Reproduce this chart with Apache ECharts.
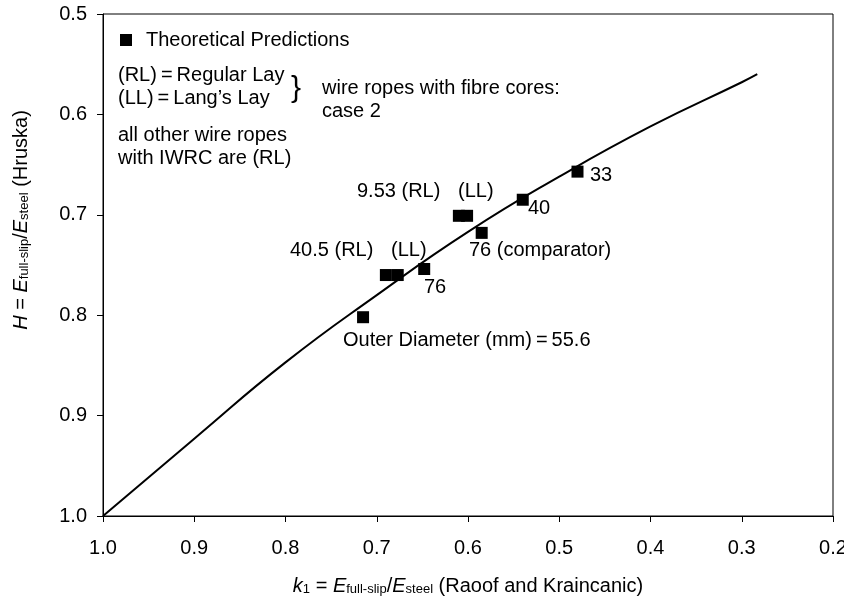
<!DOCTYPE html>
<html>
<head>
<meta charset="utf-8">
<script src="https://cdn.jsdelivr.net/npm/echarts@6/dist/echarts.min.js"></script>
<style>
  html, body { margin: 0; padding: 0; background: #fff; }
  #chart { width: 844px; height: 609px; }
</style>
</head>
<body>
<div id="chart"></div>
<script>
// curve: k1 (Raoof) vs H (Hruska)
var curveK = [1.0, 0.9, 0.8, 0.7, 0.6, 0.5, 0.4, 0.3, 0.283];
var curveH = [1.0, 0.923, 0.847, 0.780, 0.717, 0.662, 0.612, 0.568, 0.560];

// theoretical predictions (squares)
var pointK = [0.715, 0.690, 0.677, 0.648, 0.610, 0.601, 0.585, 0.540, 0.480];
var pointH = [0.802, 0.760, 0.760, 0.754, 0.701, 0.701, 0.718, 0.685, 0.657];

var xTicks = [1.0, 0.9, 0.8, 0.7, 0.6, 0.5, 0.4, 0.3, 0.2];
var yTicks = [0.5, 0.6, 0.7, 0.8, 0.9, 1.0];

var FONT = "'Liberation Sans', Arial, sans-serif";
var FS = 20;

function pairs(a, b) {
  return a.map(function (v, i) { return [v, b[i]]; });
}

// text labels placed in pixels (left, vertical middle)
function txt(x, y, s) {
  return {
    type: "text",
    x: x,
    y: y,
    style: {
      text: s,
      font: FS + "px " + FONT,
      fill: "#000",
      verticalAlign: "middle",
    },
  };
}

var nameRich = {
  i: { fontFamily: FONT, fontSize: FS, fontStyle: "italic", color: "#000" },
  s: { fontFamily: FONT, fontSize: 13, color: "#000", verticalAlign: "bottom", padding: [7, 0, 0, 0] },
};

var chart = echarts.init(document.getElementById("chart"));
var option = {
  animation: false,
  backgroundColor: "#fff",
  grid: {
    left: 103,
    right: 11,
    top: 14,
    bottom: 93,
    outerBoundsMode: "none",
    show: true,
    borderColor: "#000",
    borderWidth: 1,
  },
  legend: {
    left: 115,
    top: 25,
    itemWidth: 12,
    itemHeight: 12,
    icon: "rect",
    textStyle: { fontFamily: FONT, fontSize: FS, color: "#000", padding: [0, 0, 0, 9] },
    data: ["Theoretical Predictions"],
  },
  xAxis: {
    type: "value",
    inverse: true,
    min: 0.2,
    max: 1.0,
    interval: 0.1,
    splitLine: { show: false },
    axisLine: { lineStyle: { color: "#000", width: 1 } },
    axisTick: { show: true, length: 6, lineStyle: { color: "#000" } },
    axisLabel: {
      margin: 22,
      fontFamily: FONT,
      fontSize: FS,
      color: "#000",
      formatter: function (v) { return (+v).toFixed(1); },
    },
    name: "{i|k}{s|1} = {i|E}{s|full-slip}/{i|E}{s|steel} (Raoof and Kraincanic)",
    nameLocation: "middle",
    nameGap: 60,
    nameTextStyle: { fontFamily: FONT, fontSize: FS, color: "#000", rich: nameRich },
  },
  yAxis: {
    type: "value",
    inverse: true,
    min: 0.5,
    max: 1.0,
    interval: 0.1,
    splitLine: { show: false },
    axisLine: { lineStyle: { color: "#000", width: 1 } },
    axisTick: { show: true, length: 6, lineStyle: { color: "#000" } },
    axisLabel: {
      margin: 16,
      fontFamily: FONT,
      fontSize: FS,
      color: "#000",
      formatter: function (v) { return (+v).toFixed(1); },
    },
    name: "{i|H} = {i|E}{s|full-slip}/{i|E}{s|steel} (Hruska)",
    nameLocation: "middle",
    nameGap: 72,
    nameRotate: 90,
    nameTextStyle: {
      fontFamily: FONT,
      fontSize: FS,
      color: "#000",
      padding: [0, 0, 0, 90],
      rich: nameRich,
    },
  },
  series: [
    {
      name: "curve",
      type: "line",
      smooth: true,
      showSymbol: false,
      lineStyle: { color: "#000", width: 2 },
      data: pairs(curveK, curveH),
      z: 2,
    },
    {
      name: "Theoretical Predictions",
      type: "scatter",
      symbol: "rect",
      symbolSize: 12,
      itemStyle: { color: "#000", opacity: 1 },
      data: pairs(pointK, pointH),
      z: 3,
    },
  ],
  graphic: [
    txt(118, 75, "(RL)\u2009=\u2009Regular Lay"),
    txt(118, 98, "(LL)\u2009=\u2009Lang\u2019s Lay"),
    {
      type: "text",
      x: 291,
      y: 89,
      style: {
        text: "}",
        font: "30px " + FONT,
        fill: "#000",
        verticalAlign: "middle",
      },
    },
    txt(322, 88, "wire ropes with fibre cores:"),
    txt(322, 111, "case 2"),
    txt(118, 135, "all other wire ropes"),
    txt(118, 158, "with IWRC are (RL)"),
    txt(357, 191, "9.53 (RL)"),
    txt(458, 191, "(LL)"),
    txt(290, 250, "40.5 (RL)"),
    txt(391, 250, "(LL)"),
    txt(424, 287, "76"),
    txt(469, 250, "76 (comparator)"),
    txt(528, 208, "40"),
    txt(590, 175, "33"),
    txt(343, 340, "Outer Diameter (mm)\u2009=\u200955.6"),
  ],
};
chart.setOption(option);
</script>
</body>
</html>
